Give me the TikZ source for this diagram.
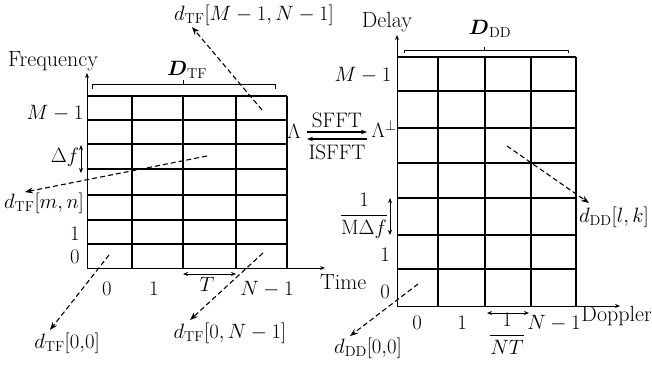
\documentclass[tikz,border=0pt]{standalone}
\usepackage{amsmath}
\usetikzlibrary{arrows.meta}
\begin{document}
\begin{tikzpicture}[x=1pt,y=-1pt,font=\fontsize{20}{24}\selectfont,
  grid/.style={line width=1.1pt},
  axis/.style={line width=0.9pt,-{Stealth[length=5pt,width=4pt]}},
  pointer/.style={line width=1.1pt,dash pattern=on 5pt off 3pt,-{Stealth[length=8pt,width=6pt]}},
  dimarrow/.style={line width=0.9pt,{Stealth[length=5pt,width=4pt]}-{Stealth[length=5pt,width=4pt]}},
  bracket/.style={line width=0.9pt},
  trans/.style={line width=1.1pt,-{Stealth[length=6pt,width=4.5pt]}},
  lbl/.style={inner sep=0pt},
  word/.style={inner sep=0pt,font=\fontsize{22}{26}\selectfont}]
\useasboundingbox (0,0) rectangle (652,364);

% ---------- left grid (time-frequency) ----------
\foreach \x in {132,183,236,287} \draw[grid] (\x,96) -- (\x,268);
\foreach \y in {96,120,144,169,195,220,244} \draw[grid] (87,\y) -- (287,\y);
\coordinate (tfo) at (87,268);
\coordinate (tfy) at (87,73);
\coordinate (tfx) at (325,268);
\draw[axis] (tfo) -- (tfy);
\draw[axis] (tfo) -- (tfx);
\draw[bracket] (92,89) -- (92,84) -- (275,84) -- (275,89) (183,84) -- (183,80);

\node[word] (freq) at (53,61) {Frequency};
\node[lbl] (dtf) at (187,70) {$\boldsymbol{D}_{\mathrm{TF}}$};
\node[lbl] (tfm1) at (55,113) {$M-1$};
\node[lbl] (tfdf) at (65,157) {$\Delta f$};
\coordinate (dfa) at (81,145); \coordinate (dfb) at (81,173);
\draw[dimarrow] (dfa) -- (dfb);
\node[lbl] (tfone) at (75,234) {$1$};
\node[lbl] (tfzero) at (75,257) {$0$};
\node[lbl] (tx0) at (107,289) {$0$};
\node[lbl] (tx1) at (154,289) {$1$};
\node[lbl] (txT) at (207,284) {$T$};
\node[lbl] (txN) at (267,289) {$N-1$};
\coordinate (Ta) at (183,274); \coordinate (Tb) at (236,274);
\draw[dimarrow] (Ta) -- (Tb);
\node[word,anchor=west] (time) at (320,282) {Time};

\node[lbl] (lab1) at (254,15) {$d_{\mathrm{TF}}[M-1,N-1]$};
\coordinate (s1) at (262,110); \coordinate (e1) at (192,27);
\draw[pointer] (s1) -- (e1);
\node[lbl] (lab2) at (44,203) {$d_{\mathrm{TF}}[m,n]$};
\coordinate (s2) at (207,156); \coordinate (e2) at (25,192);
\draw[pointer] (s2) -- (e2);
\node[lbl] (lab3) at (67,343) {$d_{\mathrm{TF}}[0{,}0]$};
\coordinate (s3) at (109,255); \coordinate (e3) at (50,330);
\draw[pointer] (s3) -- (e3);
\node[lbl] (lab4) at (230,333) {$d_{\mathrm{TF}}[0,N-1]$};
\coordinate (s4) at (263,253); \coordinate (e4) at (190,320);
\draw[pointer] (s4) -- (e4);

% ---------- transform ----------
\node[lbl] (lam) at (294,131) {$\Lambda$};
\node[lbl] (lamp) at (384,129) {$\Lambda^{\perp}$};
\coordinate (ta) at (307,132); \coordinate (tb) at (367,132);
\coordinate (tc) at (367,139); \coordinate (td) at (307,139);
\draw[trans] (ta) -- (tb);
\draw[trans] (tc) -- (td);
\node[lbl,font=\fontsize{21}{25}\selectfont] (sfft) at (337,120) {SFFT};
\node[lbl,font=\fontsize{21}{25}\selectfont] (isfft) at (337,152) {ISFFT};

% ---------- right grid (delay-Doppler) ----------
\foreach \x in {438,485,531,576} \draw[grid] (\x,57) -- (\x,306);
\foreach \y in {57,91,128,163,198,235,269} \draw[grid] (397,\y) -- (576,\y);
\coordinate (ddo) at (397,306);
\coordinate (ddy) at (397,35);
\coordinate (ddx) at (620,306);
\draw[axis] (ddo) -- (ddy);
\draw[axis] (ddo) -- (ddx);
\draw[bracket] (404,53) -- (404,50) -- (568,50) -- (568,53) (484,50) -- (484,47);

\node[word] (delay) at (387,22) {Delay};
\node[lbl] (ddd) at (490,29) {$\boldsymbol{D}_{\mathrm{DD}}$};
\node[lbl] (ddm1) at (363,75) {$M-1$};
\node[lbl] (ddfr) at (364,216) {$\dfrac{1}{\mathrm{M}\Delta f}$};
\coordinate (dda) at (390,198); \coordinate (ddb) at (390,235);
\draw[dimarrow] (dda) -- (ddb);
\node[lbl] (ddone) at (385,255) {$1$};
\node[lbl] (ddzero) at (385,292) {$0$};
\node[lbl] (dx0) at (417,323) {$0$};
\node[lbl] (dx1) at (462,323) {$1$};
\node[lbl] (dxT) at (507,334) {$\dfrac{1}{NT}$};
\node[lbl] (dxN) at (554,323) {$N-1$};
\coordinate (Da) at (487,313); \coordinate (Db) at (529,313);
\draw[dimarrow] (Da) -- (Db);
\node[word,anchor=east] (doppler) at (652,316) {Doppler};

\node[lbl] (lab5) at (368,348) {$d_{\mathrm{DD}}[0{,}0]$};
\coordinate (s5) at (418,284); \coordinate (e5) at (350,336);
\draw[pointer] (s5) -- (e5);
\node[lbl] (lab6) at (614,217) {$d_{\mathrm{DD}}[l,k]$};
\coordinate (s6) at (507,146); \coordinate (e6) at (589,203);
\draw[pointer] (s6) -- (e6);
\end{tikzpicture}
\end{document}
